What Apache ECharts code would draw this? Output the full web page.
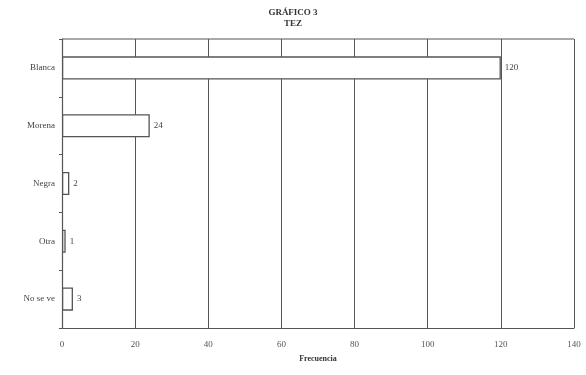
<!DOCTYPE html>
<html>
<head>
<meta charset="utf-8">
<script src="https://cdn.jsdelivr.net/npm/echarts@6/dist/echarts.min.js"></script>
<style>
  html, body { margin: 0; padding: 0; background: #fff; }
  #chart { width: 586px; height: 375px; }
</style>
</head>
<body>
<div id="chart"></div>
<script>
// categories top to bottom as in the scan
const categories = ['Blanca', 'Morena', 'Negra', 'Otra', 'No se ve']
const frecuencia = [120, 24, 2, 1, 3]
const xTicks = [0, 20, 40, 60, 80, 100, 120, 140]

const ink = '#555'
const serif = '"Liberation Serif", "DejaVu Serif", serif'

const chart = echarts.init(document.getElementById('chart'))
chart.setOption({
  backgroundColor: '#fff',
  animation: false,
  title: {
    text: 'GRÁFICO 3\nTEZ',
    left: 'center',
    top: 2,
    textStyle: { fontFamily: serif, fontSize: 9, fontWeight: 'bold', color: '#333', lineHeight: 11 },
  },
  grid: { left: 62, right: 12, top: 39, bottom: 47 },
  xAxis: {
    type: 'value',
    min: xTicks[0],
    max: xTicks[xTicks.length - 1],
    interval: 20,
    name: 'Frecuencia',
    nameLocation: 'middle',
    nameGap: 27,
    nameTextStyle: { fontFamily: serif, fontSize: 8, fontWeight: 'bold', color: '#333' },
    axisLine: { show: true, lineStyle: { color: ink, width: 1.2 } },
    axisTick: { show: false },
    axisLabel: { fontFamily: serif, fontSize: 9, color: '#555', margin: 12 },
    splitLine: { show: true, lineStyle: { color: ink, width: 1 } },
  },
  yAxis: {
    type: 'category',
    data: categories,
    inverse: true,
    axisLine: { show: true, lineStyle: { color: ink, width: 1.2 } },
    axisTick: { show: true, length: 3, lineStyle: { color: ink } },
    axisLabel: { fontFamily: serif, fontSize: 9, color: '#444', margin: 7 },
    splitLine: { show: false },
  },
  series: [{
    type: 'bar',
    data: frecuencia,
    barWidth: '40%',
    itemStyle: { color: '#fff', borderColor: ink, borderWidth: 1.3 },
    label: {
      show: true,
      position: 'right',
      distance: 4,
      fontFamily: serif,
      fontSize: 9,
      color: '#444',
    },
  }],
  graphic: [{
    type: 'line',
    shape: { x1: 62, y1: 39, x2: 574, y2: 39 },
    style: { stroke: ink, lineWidth: 1 },
  }],
})
</script>
</body>
</html>
